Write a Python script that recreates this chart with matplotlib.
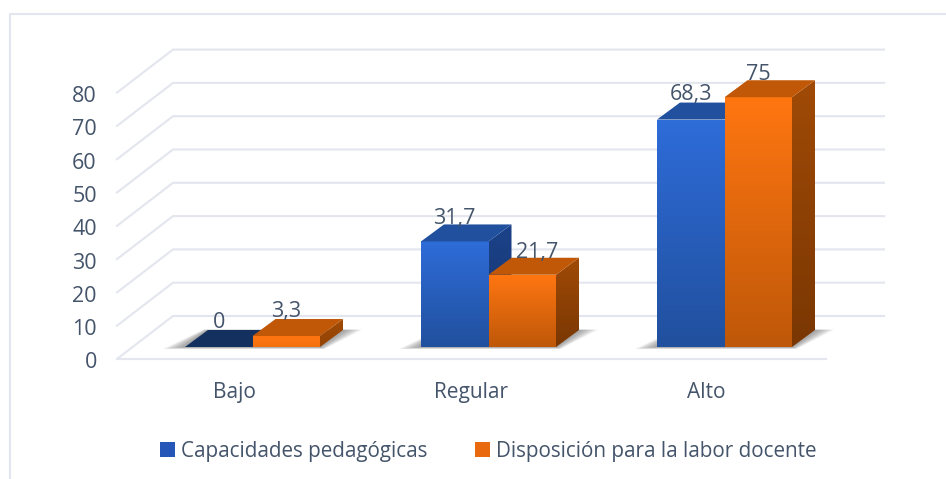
import numpy as np
import matplotlib
matplotlib.use("Agg")
import matplotlib.pyplot as plt
from matplotlib.colors import LinearSegmentedColormap
from matplotlib.patches import Polygon, Rectangle
from matplotlib.lines import Line2D

categories = ["Bajo", "Regular", "Alto"]
series_names = ["Capacidades pedagógicas", "Disposición para la labor docente"]
capacidades = [0, 31.7, 68.3]
disposicion = [3.3, 21.7, 75]
value_labels = [["0", "31,7", "68,3"], ["3,3", "21,7", "75"]]
y_ticks = [0, 10, 20, 30, 40, 50, 60, 70, 80]

W, H = 946, 479
TXT = "#44546A"
GRID = "#E3E6EE"
plt.rcParams["font.family"] = ["Open Sans", "DejaVu Sans"]

fig = plt.figure(figsize=(W / 100, H / 100), dpi=100, facecolor="white")
# scale: 236 px per category, 3.33 px per unit
PXX, PXY = 236.0, 3.33
L, R, B, T = 117, 884, 366, 30
ax = fig.add_axes([L / W, 1 - B / H, (R - L) / W, (B - T) / H])
x0 = 252.5
y0 = 347
xlim = ((L - x0) / PXX, (R - x0) / PXX)
ylim = ((y0 - B) / PXY, (y0 - T) / PXY)

ax.patch.set_alpha(0)
for s in ax.spines.values():
    s.set_visible(False)

front = (y0 - 359) / PXY
back = (y0 - 316) / PXY
wall_dx = 56 / PXX
floor_right = (826 - x0) / PXX
for v in y_ticks:
    ax.plot([xlim[0], xlim[0] + wall_dx, xlim[1]], [front + v, back + v, back + v],
            color=GRID, lw=1.5, zorder=1, solid_joinstyle="miter", clip_on=False)
ax.plot([xlim[0], floor_right], [front, front], color=GRID, lw=1.5, zorder=1, clip_on=False)

tick_shift = 1.5 / PXY
ax.set_yticks([front + v - tick_shift for v in y_ticks], [str(v) for v in y_ticks])
ax.set_xticks([i - 18 / PXX for i in range(len(categories))], categories)
ax.tick_params(axis="y", length=0, pad=14.5, labelsize=15.5, labelcolor=TXT)
ax.tick_params(axis="x", length=0, pad=11.7, labelsize=15, labelcolor=TXT)

bw = 67.5 / PXX
ddx, ddy = 23 / PXX, 17 / PXY


def grad(poly, c_top, c_bot, ytop, ybot, z):
    cm = LinearSegmentedColormap.from_list("g", [c_top, c_bot])
    xs = [p[0] for p in poly]
    ys = [p[1] for p in poly]
    vmin = (min(ys) - ytop) / (ybot - ytop)
    vmax = (max(ys) - ytop) / (ybot - ytop)
    im = ax.imshow(np.linspace(vmax, vmin, 64).reshape(-1, 1), cmap=cm, vmin=0, vmax=1,
                   extent=[min(xs), max(xs), min(ys), max(ys)],
                   aspect="auto", zorder=z, origin="upper", interpolation="bilinear")
    clip = Polygon(poly, closed=True, transform=ax.transData, fc="none", ec="none")
    ax.add_patch(clip)
    im.set_clip_path(clip)


def bar3d(xl, v, pal, z):
    xr = xl + bw
    if v > 0:
        span = max(v, 20)
        grad([(xl, 0), (xr, 0), (xr, v), (xl, v)], pal["f1"], pal["f2"], v, v - span, z + 0.2)
        grad([(xr, 0), (xr + ddx, ddy), (xr + ddx, v + ddy), (xr, v)], pal["s1"], pal["s2"], v + ddy, v - span, z + 0.1)
    ax.add_patch(Polygon([(xl, v), (xr, v), (xr + ddx, v + ddy), (xl + ddx, v + ddy)],
                         closed=True, fc=pal["t"] if v > 0 else pal["z"], ec="none", zorder=z + 0.3))


def shadow(xl, xr, z):
    for g in np.linspace(15, 1, 12):
        gx, gy = g / PXX, g * 0.28 / PXY
        ax.add_patch(Polygon([(xl - gx * 1.5, -gy * 0.5), (xr + gx * 0.3, -gy * 0.5),
                              (xr + ddx + gx * 1.3, ddy + gy * 0.1), (xl + ddx - gx * 0.3, ddy + gy * 0.1)],
                             closed=True, fc="#505050", ec="none", alpha=0.055, zorder=z))


blue = dict(f1="#2E6CD8", f2="#21509E", s1="#1B4289", s2="#16346C", t="#21509E", z="#14305F")
orange = dict(f1="#FF7611", f2="#BF5809", s1="#A04A06", s2="#7A3703", t="#C05808", z="#C05808")
pals = [blue, orange]
series = [capacidades, disposicion]

x_positions = np.arange(len(categories))
for i in x_positions:
    shadow(i - bw, i + bw, 2)
    for k, vals in enumerate(series):
        bar3d(i - bw + k * bw, vals[i], pals[k], 3 + k)

# data labels: pixel offsets from the front-top centre of each bar
label_dx = [[0, 0, 0], [0, 15, 0]]
label_dy = [[25, 23, 25], [25, 22, 23]]
for k, vals in enumerate(series):
    for i, v in enumerate(vals):
        ax.text(i - bw + (k + 0.5) * bw + label_dx[k][i] / PXX, v + label_dy[k][i] / PXY,
                value_labels[k][i], ha="center", va="center", fontsize=15.5, color=TXT, zorder=10)

ax.set_xlim(xlim)
ax.set_ylim(ylim)

# chart frame (partly cropped)
fig.add_artist(Line2D([10 / W, 10 / W, 1], [0, 1 - 14 / H, 1 - 14 / H], color=GRID, lw=1.5))

handles = [Rectangle((0, 0), 1, 1, fc="#2657B8"), Rectangle((0, 0), 1, 1, fc="#E9690E")]
fig.legend(handles, series_names, loc="center", bbox_to_anchor=(488 / W, 1 - 451 / H), ncol=2,
           frameon=False, fontsize=14.9, labelcolor=TXT, handlelength=0.72, handleheight=0.72,
           handletextpad=0.3, columnspacing=2.3, borderpad=0)

fig.savefig("out.png", dpi=100)
